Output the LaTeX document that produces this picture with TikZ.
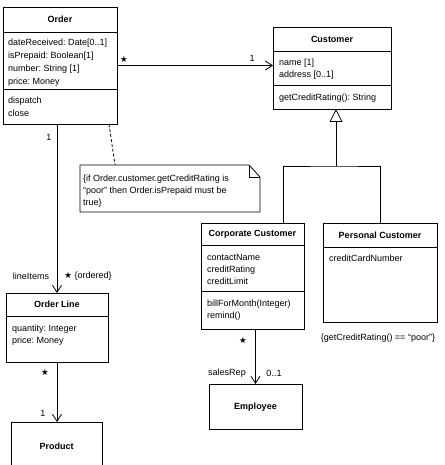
\documentclass[tikz,border=0pt]{standalone}
\usepackage{fontspec}
\setmainfont{Liberation Sans}
\newfontfamily\dvsym{DejaVu Sans}
\usetikzlibrary{arrows.meta}
\frenchspacing
\begin{document}
\begin{tikzpicture}[x=1pt,y=-1pt,
  box/.style={draw, line width=0.8pt, inner sep=0pt, outer sep=0pt, anchor=north west},
  cname/.style={font=\fontsize{9}{11}\selectfont\bfseries, inner sep=0pt},
  txt/.style={font=\fontsize{9}{#1}\selectfont, inner sep=0pt, anchor=north west, align=left},
  lbl/.style={font=\fontsize{9}{11}\selectfont, inner sep=0pt},
  star/.style={font=\dvsym\fontsize{8.5}{10}\selectfont, inner sep=0pt},
  assoc/.style={line width=0.8pt, -{Straight Barb[length=7pt,width=9pt]}},
  sep/.style={line width=0.8pt}
]
\useasboundingbox (0,0) rectangle (444,465);

% Order
\node[box, minimum width=114, minimum height=117] (order) at (3,7) {};
\node[cname] (ordername) at (60,19.5) {Order};
\draw[sep] (order.north west) ++(0,25) -- ++(114,0);
\draw[sep] (order.north west) ++(0,82) -- ++(114,0);
\node[txt=13] (orderattr) at (8,36.4) {\strut dateReceived: Date[0..1]\\isPrepaid: Boolean[1]\\number: String [1]\\price: Money};
\node[txt=13] (orderops) at (8,94.1) {\strut dispatch\\close};

% Customer
\node[box, minimum width=118, minimum height=82] (customer) at (273,27) {};
\node[cname] (custname) at (332,39) {Customer};
\draw[sep] (customer.north west) ++(0,24) -- ++(118,0);
\draw[sep] (customer.north west) ++(0,58) -- ++(118,0);
\node[txt=12] (custattr) at (279,56.6) {\strut name [1]\\address [0..1]};
\node[txt=12] (custops) at (279,91.6) {\strut getCreditRating(): String};

% Corporate Customer
\node[box, minimum width=103, minimum height=106] (corp) at (201,223) {};
\node[cname] (corpname) at (252.5,234) {Corporate Customer};
\draw[sep] (corp.north west) ++(0,22) -- ++(103,0);
\draw[sep] (corp.north west) ++(0,68) -- ++(103,0);
\node[txt=12] (corpattr) at (207,252.1) {\strut contactName\\creditRating\\creditLimit};
\node[txt=12] (corpops) at (207,298.1) {\strut billForMonth(Integer)\\remind()};

% Personal Customer
\node[box, minimum width=114, minimum height=99] (personal) at (323,223) {};
\node[cname] (persname) at (380,235) {Personal Customer};
\draw[sep] (personal.north west) ++(0,24) -- ++(114,0);
\node[txt=12] (persattr) at (329,253.1) {\strut creditCardNumber};
\node[lbl] (pconstr) at (378,338) {\{getCreditRating() == “poor”\}};

% Order Line
\node[box, minimum width=102, minimum height=69] (orderline) at (6,293) {};
\node[cname] (olname) at (57,304.5) {Order Line};
\draw[sep] (orderline.north west) ++(0,23) -- ++(102,0);
\node[txt=12.5] (olattr) at (12,322.4) {\strut quantity: Integer\\price: Money};

% Product
\node[box, minimum width=91, minimum height=60] (product) at (11,422) {};
\node[cname] (prodname) at (56.5,446) {Product};

% Employee
\node[box, minimum width=93, minimum height=45] (employee) at (209,384) {};
\node[cname] (empname) at (255.5,407) {Employee};

% Note
\node[inner sep=0pt, outer sep=0pt, minimum width=180, minimum height=47, anchor=north west] (note) at (80,165) {};
\draw[sep] (note.north west) -- ([xshift=-11]note.north east) -- ([yshift=-12]note.north east) -- (note.south east) -- (note.south west) -- cycle;
\draw[sep] ([xshift=-11]note.north east) -- ([xshift=-11,yshift=-12]note.north east) -- ([yshift=-12]note.north east);
\node[txt=12] (notetext) at (83,173.1) {\strut\{if Order.customer.getCreditRating is\\“poor” then Order.isPrepaid must be\\true\}};
\draw[sep, dash pattern=on 3pt off 2pt] ([xshift=-8]order.south east) -- ([xshift=35]note.north west);

% Order -> Customer
\draw[assoc] (order.east) -- (order.east -| customer.west);
\node[star] (s1) at (124,59) {★};
\node[lbl] (m1) at (252,58) {1};

% Order -> Order Line
\draw[assoc] (orderline.north |- order.south) -- (orderline.north);
\node[lbl] (m2) at (49,137) {1};
\node[lbl] (role1) at (31,276) {lineItems};
\node[lbl] (m3) at (88,276) {{\dvsym\fontsize{8.5}{10}\selectfont ★}~\{ordered\}};

% Order Line -> Product
\draw[assoc] (orderline.south) -- (orderline.south |- product.north);
\node[star] (s3) at (45,372) {★};
\node[lbl] (m4) at (43,413) {1};

% Corporate -> Employee
\draw[assoc] (employee.north |- corp.south) -- (employee.north);
\node[star] (s4) at (243,340) {★};
\node[lbl] (role2) at (227,373) {salesRep};
\node[lbl] (m5) at (274,373) {0..1};

% Generalization
\coordinate (gsplit) at (336,166);
\draw[sep] ([xshift=30.5]corp.north) |- (gsplit) -| (personal.north);
\draw[sep, -{Triangle[open, length=13pt, width=13pt]}] (gsplit) -- (gsplit |- customer.south);
\end{tikzpicture}
\end{document}
